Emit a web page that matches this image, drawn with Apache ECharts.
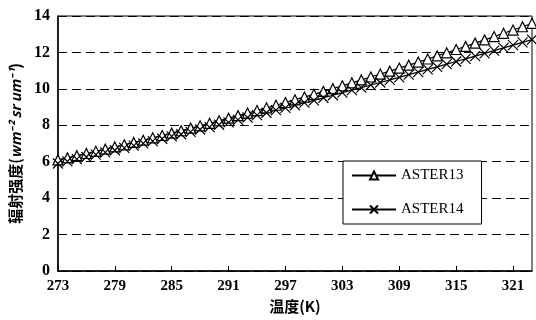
<!DOCTYPE html>
<html>
<head>
<meta charset="utf-8">
<script src="https://cdn.jsdelivr.net/npm/echarts@6/dist/echarts.min.js"></script>
<style>
  html, body { margin: 0; padding: 0; background: #fff; }
  #chart { width: 536px; height: 320px; }
</style>
</head>
<body>
<div id="chart"></div>
<script>
// 温度 (K)
var temps = ['273','274','275','276','277','278','279','280','281','282','283','284','285','286','287','288','289','290',
  '291','292','293','294','295','296','297','298','299','300','301','302','303','304','305','306','307','308',
  '309','310','311','312','313','314','315','316','317','318','319','320','321','322','323'];

var aster13 = [6.10,6.21,6.33,6.45,6.57,6.69,6.81,6.93,7.06,7.18,7.31,7.44,7.57,7.70,7.84,7.97,8.11,8.25,
  8.39,8.53,8.67,8.81,8.96,9.10,9.25,9.40,9.55,9.70,9.86,10.01,10.17,10.33,10.49,10.65,10.81,10.97,
  11.14,11.30,11.47,11.64,11.81,11.98,12.16,12.33,12.51,12.69,12.87,13.05,13.23,13.41,13.60];

var aster14 = [5.90,6.02,6.14,6.26,6.39,6.51,6.63,6.76,6.88,7.01,7.13,7.26,7.39,7.51,7.64,7.77,7.90,8.03,
  8.16,8.30,8.43,8.56,8.69,8.83,8.96,9.10,9.24,9.37,9.51,9.65,9.79,9.93,10.07,10.21,10.35,10.49,
  10.63,10.78,10.92,11.07,11.21,11.36,11.50,11.65,11.80,11.95,12.10,12.25,12.40,12.55,12.70];

var seriesNames = ['ASTER13', 'ASTER14'];

var serif = '"Liberation Serif", "DejaVu Serif", serif';
var cjk = '"Noto Sans CJK SC", sans-serif';

var chart = echarts.init(document.getElementById('chart'));
chart.setOption({
  animation: false,
  backgroundColor: '#fff',
  grid: {
    left: 53, right: 4, top: 16, bottom: 49,
    show: true, borderColor: '#000', borderWidth: 1
  },
  legend: {
    orient: 'vertical',
    left: 343, top: 161,
    width: 140,
    data: seriesNames,
    itemWidth: 44, itemHeight: 10,
    itemGap: 19,
    padding: [7, 18, 7, 8],
    backgroundColor: '#fff',
    borderColor: '#000', borderWidth: 1,
    textStyle: { fontFamily: serif, fontSize: 15, color: '#000' }
  },
  xAxis: {
    type: 'category',
    data: temps,
    boundaryGap: false,
    name: '温度(K)',
    nameLocation: 'middle',
    nameGap: 28,
    nameTextStyle: { fontFamily: cjk, fontWeight: 'bold', fontSize: 15, color: '#000' },
    axisLine: { lineStyle: { color: '#000', width: 1.5 } },
    axisTick: { inside: true, interval: 5, length: 5, lineStyle: { color: '#000' } },
    axisLabel: { interval: 5, fontFamily: serif, fontWeight: 'bold', fontSize: 15, color: '#000', margin: 8 },
    splitLine: { show: false }
  },
  yAxis: {
    type: 'value',
    min: 0, max: 14, interval: 2,
    name: '辐射强度({u|wm⁻² sr um⁻¹})',
    nameLocation: 'middle',
    nameRotate: 90,
    nameGap: 33,
    nameTextStyle: {
      fontFamily: cjk, fontWeight: 'bold', fontSize: 15, color: '#000',
      rich: { u: { fontFamily: cjk, fontWeight: 'bold', fontStyle: 'italic', fontSize: 14, color: '#000' } }
    },
    axisLine: { show: true, lineStyle: { color: '#000', width: 1.5 } },
    axisTick: { show: false },
    axisLabel: { fontFamily: serif, fontWeight: 'bold', fontSize: 16, color: '#000', margin: 8 },
    splitLine: { lineStyle: { color: '#000', type: [9, 5], width: 1 } }
  },
  series: [
    {
      name: seriesNames[0],
      type: 'line',
      data: aster13,
      showAllSymbol: true,
      symbol: 'triangle',
      symbolSize: 10,
      lineStyle: { color: '#000', width: 1.2 },
      itemStyle: { color: '#fff', borderColor: '#000', borderWidth: 1.2 }
    },
    {
      name: seriesNames[1],
      type: 'line',
      data: aster14,
      showAllSymbol: true,
      symbol: 'path://M0,0L10,10M10,0L0,10',
      symbolSize: 10,
      lineStyle: { color: '#000', width: 1.2 },
      itemStyle: { color: '#fff', borderColor: '#000', borderWidth: 1.2 }
    }
  ]
});
</script>
</body>
</html>
